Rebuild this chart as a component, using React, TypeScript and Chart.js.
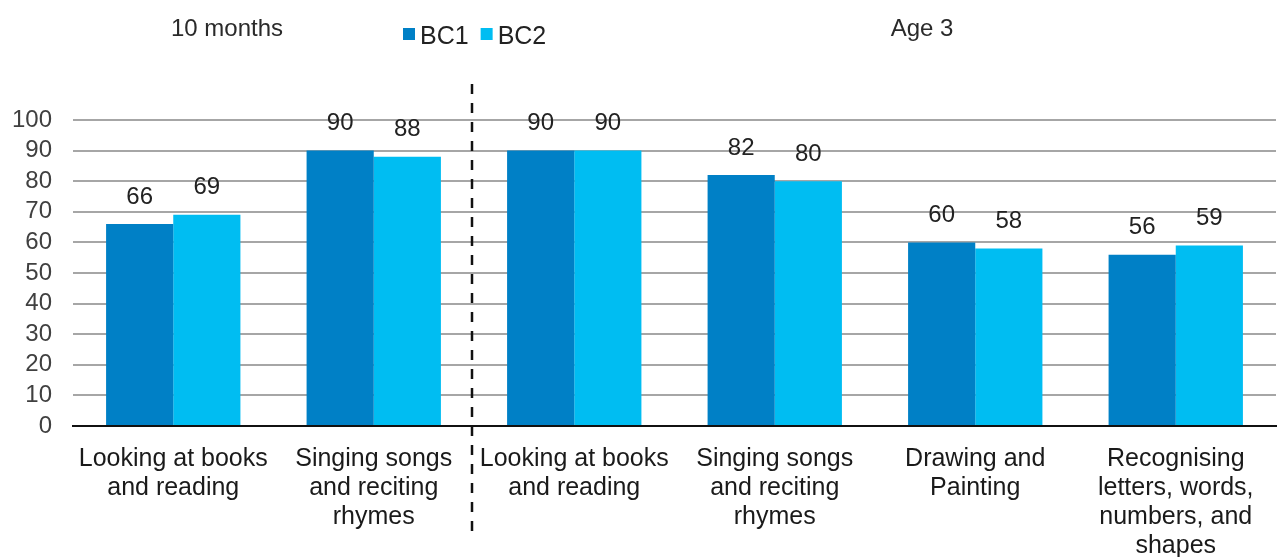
import React, { useEffect, useRef } from "react";
import { Chart, registerables } from "chart.js";

Chart.register(...registerables);

const categories: string[][] = [
  ["Looking at books", "and reading"],
  ["Singing songs", "and reciting", "rhymes"],
  ["Looking at books", "and reading"],
  ["Singing songs", "and reciting", "rhymes"],
  ["Drawing and", "Painting"],
  ["Recognising", "letters, words,", "numbers, and", "shapes"],
];
const bc1Values = [66, 90, 90, 82, 60, 56];
const bc2Values = [69, 88, 90, 80, 58, 59];
const seriesNames = ["BC1", "BC2"];
const groupTitles = ["10 months", "Age 3"];
const yTicks = [0, 10, 20, 30, 40, 50, 60, 70, 80, 90, 100];

const COLORS = ["#0080C6", "#00BDF2"];
const FONT = "'Liberation Sans', Arial, sans-serif";

const overlayPlugin = {
  id: "overlay",
  afterDatasetsDraw(chart: any) {
    const ctx = chart.ctx;
    ctx.save();
    // data labels
    ctx.font = `24px ${FONT}`;
    ctx.fillStyle = "#222";
    ctx.textAlign = "center";
    ctx.textBaseline = "middle";
    chart.data.datasets.forEach((ds: any, di: number) => {
      const meta = chart.getDatasetMeta(di);
      meta.data.forEach((bar: any, i: number) => {
        ctx.fillText(String(ds.data[i]), bar.x, bar.y - 27);
      });
    });
    // dashed separator
    const xs = chart.scales.x;
    const sx = (xs.getPixelForValue(1) + xs.getPixelForValue(2)) / 2 - 2;
    ctx.strokeStyle = "#111";
    ctx.lineWidth = 2.5;
    ctx.setLineDash([10, 9]);
    ctx.beginPath();
    ctx.moveTo(sx, 84);
    ctx.lineTo(sx, 538);
    ctx.stroke();
    ctx.setLineDash([]);
    // group titles
    ctx.textBaseline = "alphabetic";
    ctx.font = `24px ${FONT}`;
    ctx.fillStyle = "#2a2a2a";
    ctx.fillText(groupTitles[0], 227, 36);
    ctx.fillText(groupTitles[1], 922, 36);
    // legend
    ctx.textAlign = "left";
    ctx.font = `25px ${FONT}`;
    let lx = 403;
    seriesNames.forEach((name, i) => {
      ctx.fillStyle = COLORS[i];
      ctx.fillRect(lx, 28, 12, 12);
      ctx.fillStyle = "#222";
      ctx.fillText(name, lx + 17, 44);
      lx += 17 + ctx.measureText(name).width + 12;
    });
    ctx.restore();
  },
};

export default function App() {
  const ref = useRef<HTMLCanvasElement | null>(null);
  useEffect(() => {
    if (!ref.current) return;
    const chart = new Chart(ref.current, {
      type: "bar",
      data: {
        labels: categories,
        datasets: [
          {
            label: seriesNames[0],
            data: bc1Values,
            backgroundColor: COLORS[0],
            categoryPercentage: 0.67,
            barPercentage: 1,
          },
          {
            label: seriesNames[1],
            data: bc2Values,
            backgroundColor: COLORS[1],
            categoryPercentage: 0.67,
            barPercentage: 1,
          },
        ],
      },
      options: {
        responsive: false,
        animation: false,
        layout: { padding: { top: 120, right: 2, left: 0, bottom: 0 } },
        plugins: {
          legend: { display: false },
          tooltip: { enabled: false },
        },
        scales: {
          x: {
            grid: { display: false, drawTicks: false },
            border: { display: true, color: "#111", width: 2 },
            ticks: {
              padding: 19,
              color: "#1a1a1a",
              font: { family: FONT, size: 25, lineHeight: 1.16 },
              maxRotation: 0,
              autoSkip: false,
            },
            afterFit: (s: any) => {
              s.height = 131;
            },
          },
          y: {
            min: 0,
            max: 100,
            afterBuildTicks: (s: any) => {
              s.ticks = yTicks.map((v) => ({ value: v }));
            },
            grid: {
              drawTicks: false,
              lineWidth: 2,
              color: (c: any) => (c.tick && c.tick.value === 0 ? "rgba(0,0,0,0)" : "#a6a6a6"),
            },
            border: { display: false },
            ticks: {
              autoSkip: false,
              padding: 21,
              color: "#404040",
              font: { family: FONT, size: 24 },
            },
            afterFit: (s: any) => {
              s.width = 73;
            },
          },
        },
      },
      plugins: [overlayPlugin],
    });
    return () => chart.destroy();
  }, []);
  return (
    <div style={{ position: "fixed", left: 0, top: 0, width: 1278, height: 557, background: "#fff" }}>
      <canvas ref={ref} width={1278} height={557} />
    </div>
  );
}
